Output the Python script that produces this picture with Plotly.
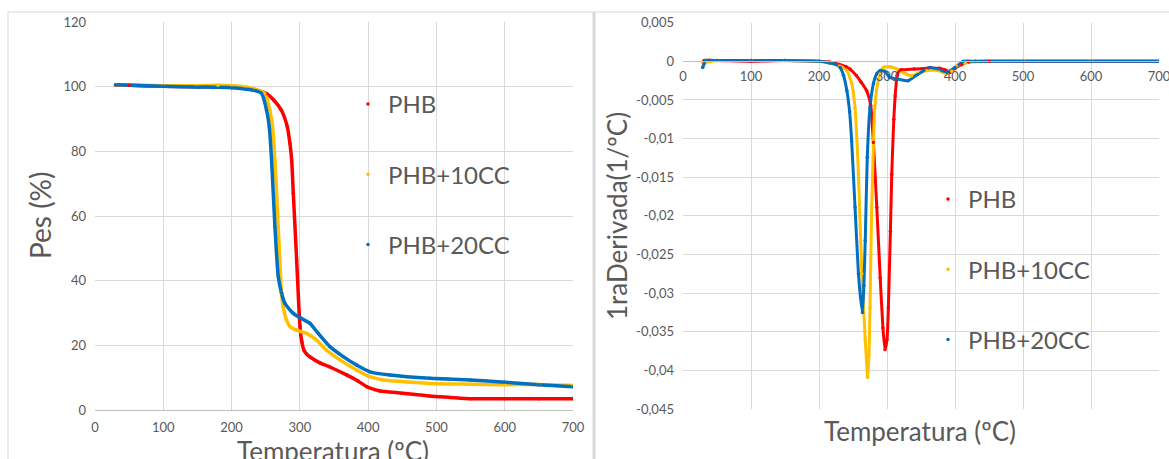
import plotly.graph_objects as go

# ---------------- data ----------------
series_names = ["PHB", "PHB+10CC", "PHB+20CC"]
series_colors = ["#FF0000", "#FFC000", "#0070C0"]

# TGA: weight (%) vs temperature (ºC)
tga_phb_t = [30, 50, 100, 150, 200, 220, 235, 251, 262, 273, 281.6, 285.5, 288, 290.4, 295.3, 300.2, 303, 306, 310, 315, 330, 344, 369, 385, 398, 410, 417, 450, 490, 520, 550, 600, 650, 700]
tga_phb_w = [100.5, 100.4, 100.1, 100.0, 99.9, 99.6, 99.0, 97.9, 95.8, 92.7, 87.6, 82.4, 77.3, 67, 46.4, 25.8, 21, 18.5, 17.3, 16.4, 14.5, 13.3, 10.8, 9.0, 7.2, 6.3, 5.9, 5.2, 4.3, 3.9, 3.5, 3.5, 3.5, 3.5]

tga_10cc_t = [30, 100, 150, 180, 200, 220, 235, 248.8, 256.1, 260, 263.5, 268.3, 273.2, 275.6, 280.5, 285.4, 295.2, 309.8, 324.5, 339.1, 358.7, 383, 402.6, 422, 450, 490.5, 550, 600, 650, 700]
tga_10cc_w = [100.6, 100.3, 100.3, 100.4, 100.3, 99.9, 99.2, 97.9, 92.7, 87.6, 77.3, 56.7, 36.1, 31.9, 27.8, 25.8, 24.7, 23.7, 21.6, 18.5, 15.5, 12.4, 10.3, 9.3, 8.8, 8.2, 8.0, 7.8, 7.9, 7.6]

tga_20cc_t = [30, 100, 150, 200, 220, 235, 244, 251.3, 255.2, 258.6, 263.5, 268.4, 273.2, 278.1, 290.3, 302.5, 314.7, 326.9, 344, 363.5, 383, 402.6, 431.9, 490.5, 550, 600, 650, 700]
tga_20cc_w = [100.6, 100.1, 99.9, 99.7, 99.3, 98.8, 97.9, 92.7, 87.6, 77.3, 56.7, 41.2, 36.1, 33, 29.9, 28.3, 26.8, 23.7, 19.6, 16.5, 13.9, 11.8, 10.8, 9.8, 9.3, 8.6, 7.8, 7.2]

# DTG: first derivative (1/ºC) vs temperature (ºC)
dtg_phb_t = [30, 31, 50, 100, 150, 200, 215, 230, 240, 245.6, 255, 262, 270, 276, 280, 285, 290, 294, 297, 300, 302, 305, 307, 310, 312, 315, 318, 321, 340, 360, 377, 385, 393, 400, 410, 420, 450, 500, 600, 700]
dtg_phb_d = [-0.0002, 0.0001, 0.0001, 0, 0.0001, 0, -0.0001, -0.0004, -0.0007, -0.001, -0.00185, -0.0027, -0.0038, -0.0057, -0.0105, -0.0189, -0.028, -0.0345, -0.0373, -0.036, -0.0319, -0.022, -0.0146, -0.0075, -0.0045, -0.0018, -0.0012, -0.0011, -0.001, -0.0009, -0.0009, -0.0011, -0.0014, -0.0009, -0.0004, -0.0001, 0, 0, 0, 0]

dtg_10cc_t = [30, 50, 100, 150, 200, 215, 230, 241, 248, 253, 258, 263, 268, 271.6, 273.5, 275, 277.5, 280, 282, 286, 290, 294.6, 305, 315, 325, 336, 345, 359, 375, 388, 395, 402, 415, 430, 500, 600, 700]
dtg_10cc_d = [-0.0002, 0.0001, 0.0001, 0.0001, 0, -0.0002, -0.0006, -0.0012, -0.0028, -0.006, -0.0146, -0.0275, -0.036, -0.0409, -0.038, -0.0319, -0.0189, -0.011, -0.006, -0.003, -0.0016, -0.0008, -0.0007, -0.001, -0.0015, -0.0019, -0.0016, -0.0012, -0.0012, -0.0016, -0.0013, -0.0006, -0.0002, 0, 0.0001, 0.0001, 0.0001]

dtg_20cc_t = [29, 31, 32, 50, 100, 150, 200, 215, 225, 231, 236, 241, 245, 248, 253, 258, 261, 264, 266, 268, 271, 275, 280, 285, 290, 297, 304, 316, 331, 345, 363, 375, 388, 400, 412, 430, 500, 600, 700]
dtg_20cc_d = [-0.0008, -0.0003, 0.0001, 0.0001, 0.0001, 0.0001, 0, -0.0002, -0.0004, -0.0008, -0.0018, -0.0038, -0.0065, -0.0103, -0.0189, -0.0275, -0.0305, -0.0325, -0.029, -0.0232, -0.0124, -0.006, -0.0029, -0.0016, -0.0012, -0.0013, -0.0021, -0.0023, -0.0025, -0.0017, -0.0008, -0.001, -0.0014, -0.0008, 0, 0, 0, 0, 0]

# ticks
temp_ticks = [0, 100, 200, 300, 400, 500, 600, 700]
temp_tick_labels = ["0", "100", "200", "300", "400", "500", "600", "700"]
pes_ticks = [0, 20, 40, 60, 80, 100, 120]
pes_tick_labels = ["0", "20", "40", "60", "80", "100", "120"]
der_ticks = [0.005, 0, -0.005, -0.01, -0.015, -0.02, -0.025, -0.03, -0.035, -0.04, -0.045]
der_tick_labels = ["0,005", "0", "-0,005", "-0,01", "-0,015", "-0,02", "-0,025", "-0,03", "-0,035", "-0,04", "-0,045"]

# titles
left_ytitle = "Pes (%)"
right_ytitle = "1raDerivada(1/ºC)"
xtitle = "Temperatura (ºC)"

# ---------------- figure ----------------
W, H = 1169, 459
FONT = "Lato, 'Open Sans', sans-serif"
TXT = "#595959"
GRID = "#d9d9d9"

def px(x):
    return x / W

def py(y):
    return 1 - y / H

fig = go.Figure()

tga = [(tga_phb_t, tga_phb_w), (tga_10cc_t, tga_10cc_w), (tga_20cc_t, tga_20cc_w)]
dtg = [(dtg_phb_t, dtg_phb_d), (dtg_10cc_t, dtg_10cc_d), (dtg_20cc_t, dtg_20cc_d)]

for i, (t, w) in enumerate(tga):
    fig.add_trace(go.Scatter(x=t, y=w, mode="lines", line=dict(color=series_colors[i], width=3.5, shape="spline", smoothing=0.6),
                             showlegend=False, xaxis="x", yaxis="y", hoverinfo="skip"))
for i, (t, w) in enumerate(tga):
    fig.add_trace(go.Scatter(x=t, y=w, mode="markers", marker=dict(color=series_colors[i], size=3.5),
                             name=series_names[i], legendgroup="L" + str(i), legend="legend",
                             xaxis="x", yaxis="y"))

for i, (t, d) in enumerate(dtg):
    fig.add_trace(go.Scatter(x=t, y=d, mode="lines", line=dict(color=series_colors[i], width=3, shape="spline", smoothing=0.5),
                             showlegend=False, xaxis="x2", yaxis="y2", hoverinfo="skip"))
for i, (t, d) in enumerate(dtg):
    fig.add_trace(go.Scatter(x=t, y=d, mode="markers", marker=dict(color=series_colors[i], size=3.5),
                             name=series_names[i], legendgroup="R" + str(i), legend="legend2",
                             xaxis="x2", yaxis="y2"))

tickfont = dict(family=FONT, size=13, color=TXT)

fig.update_layout(
    width=W, height=H, autosize=False,
    margin=dict(l=0, r=0, t=0, b=0, autoexpand=False),
    paper_bgcolor="white", plot_bgcolor="white",
    font=dict(family=FONT, color=TXT),
    xaxis=dict(domain=[px(95), px(573)], range=[0, 700], tickvals=temp_ticks, ticktext=temp_tick_labels,
               showgrid=True, gridcolor=GRID, gridwidth=1, zeroline=False, showline=True, linecolor="#bfbfbf",
               ticks="", tickfont=tickfont, anchor="y", ticklabelstandoff=5, ticklabeloverflow="allow"),
    yaxis=dict(domain=[py(410), py(22)], range=[0, 120], tickvals=pes_ticks, ticktext=pes_tick_labels,
               showgrid=True, gridcolor=GRID, gridwidth=1, zeroline=False, showline=False,
               ticks="", tickfont=tickfont, anchor="x", ticklabelstandoff=8),
    xaxis2=dict(domain=[px(683), px(1159)], range=[0, 700], tickvals=temp_ticks, ticktext=temp_tick_labels,
                showgrid=True, gridcolor=GRID, gridwidth=1, zeroline=False, showline=True, linecolor="#bfbfbf",
                ticks="", tickfont=tickfont, anchor="free", position=py(60.7), ticklabelstandoff=4,
                ticklabeloverflow="allow"),
    yaxis2=dict(domain=[py(409), py(22.7)], range=[-0.045, 0.005], tickvals=der_ticks, ticktext=der_tick_labels,
                showgrid=True, gridcolor=GRID, gridwidth=1, zeroline=False, showline=False,
                ticks="", tickfont=tickfont, anchor="x2", ticklabelstandoff=8),
    legend=dict(x=px(348), y=py(82), xanchor="left", yanchor="top", bgcolor="rgba(0,0,0,0)",
                font=dict(family=FONT, size=24, color=TXT), tracegroupgap=36, traceorder="grouped",
                itemsizing="trace"),
    legend2=dict(x=px(928), y=py(177), xanchor="left", yanchor="top", bgcolor="rgba(0,0,0,0)",
                 font=dict(family=FONT, size=24, color=TXT), tracegroupgap=36, traceorder="grouped",
                 itemsizing="trace"),
    showlegend=True,
)

annots = [
    dict(text=left_ytitle, x=px(40), y=py(215), textangle=-90, size=28),
    dict(text=xtitle, x=px(333), y=py(451), textangle=0, size=26),
    dict(text=right_ytitle, x=px(617), y=py(216), textangle=-90, size=26),
    dict(text=xtitle, x=px(920), y=py(431), textangle=0, size=26),
]
for a in annots:
    fig.add_annotation(text=a["text"], x=a["x"], y=a["y"], xref="paper", yref="paper",
                       xanchor="center", yanchor="middle", textangle=a["textangle"], showarrow=False,
                       font=dict(family=FONT, size=a["size"], color=TXT))

# panel frames
fig.add_shape(type="line", xref="paper", yref="paper", x0=px(8), x1=1, y0=py(12), y1=py(12), line=dict(color=GRID, width=1))
fig.add_shape(type="line", xref="paper", yref="paper", x0=px(8), x1=px(8), y0=py(12), y1=0, line=dict(color=GRID, width=1))
fig.add_shape(type="line", xref="paper", yref="paper", x0=px(594), x1=px(594), y0=py(12), y1=0, line=dict(color=GRID, width=3))

fig.write_html("out.html", config={"displayModeBar": False, "staticPlot": True},
               post_script="document.body.style.margin='0px';document.body.style.overflow='hidden';")
